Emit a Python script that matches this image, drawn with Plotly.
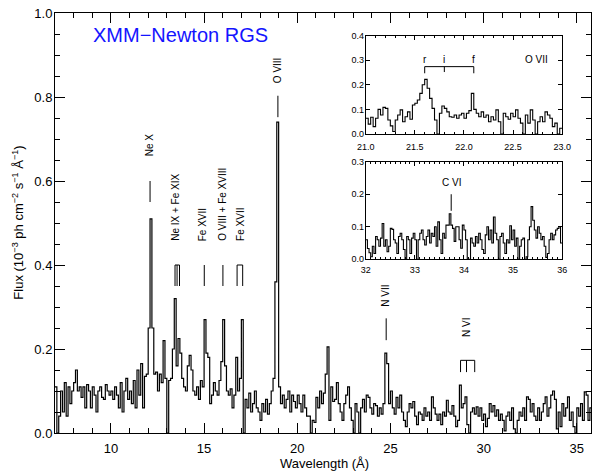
import plotly.graph_objects as go

# ---------------- data ----------------
# main RGS spectrum, 0.1 A bins starting at 7.0 A (flux in 1e-3 ph cm-2 s-1 A-1)
main_start = 7.0
main_step = 0.1
main_flux = [
    0.11, 0.0, 0.04, 0.10, 0.05, 0.12, 0.04, 0.11, 0.07, 0.10,      # 7
    0.12, 0.15, 0.10, 0.11, 0.085, 0.11, 0.06, 0.115, 0.10, 0.06,   # 8
    0.11, 0.09, 0.05, 0.10, 0.11, 0.085, 0.08, 0.115, 0.10, 0.09,   # 9
    0.10, 0.08, 0.11, 0.09, 0.06, 0.12, 0.05, 0.10, 0.13, 0.08,     # 10
    0.10, 0.07, 0.125, 0.06, 0.15, 0.09, 0.165, 0.06, 0.135, 0.14,  # 11
    0.25, 0.51, 0.25, 0.14, 0.145, 0.10, 0.14, 0.12, 0.22, 0.13,    # 12
    0.0, 0.125, 0.13, 0.20, 0.32, 0.16, 0.225, 0.19, 0.13, 0.11,    # 13
    0.10, 0.16, 0.185, 0.15, 0.10, 0.09, 0.11, 0.08, 0.125, 0.11,   # 14
    0.27, 0.19, 0.18, 0.07, 0.09, 0.12, 0.10, 0.09, 0.125, 0.17,    # 15
    0.27, 0.16, 0.10, 0.09, 0.105, 0.06, 0.09, 0.18, 0.10, 0.13,    # 16
    0.27, 0.0, 0.08, 0.06, 0.095, 0.05, 0.07, 0.10, 0.06, 0.05,     # 17
    0.03, 0.07, 0.05, 0.08, 0.045, 0.07, 0.10, 0.13, 0.36, 0.74,    # 18
    0.11, 0.07, 0.09, 0.06, 0.08, 0.10, 0.05, 0.09, 0.075, 0.06,    # 19
    0.09, 0.07, 0.05, 0.09, 0.06, 0.04, 0.04, 0.0, 0.03, 0.025,     # 20
    0.085, 0.06, 0.10, 0.07, 0.095, 0.14, 0.205, 0.03, 0.11, 0.075, # 21
    0.08, 0.12, 0.07, 0.05, 0.03, 0.07, 0.09, 0.11, 0.06, 0.03,     # 22
    0.0, 0.07, 0.05, 0.0, 0.06, 0.08, 0.05, 0.09, 0.085, 0.06,      # 23
    0.045, 0.07, 0.065, 0.04, 0.06, 0.045, 0.07, 0.19, 0.165, 0.07, # 24
    0.10, 0.06, 0.045, 0.085, 0.06, 0.09, 0.05, 0.03, 0.015, 0.05,  # 25
    0.07, 0.06, 0.075, 0.04, 0.02, 0.05, 0.045, 0.03, 0.06, 0.04,   # 26
    0.05, 0.03, 0.086, 0.06, 0.045, 0.03, 0.045, 0.02, 0.05, 0.04,  # 27
    0.078, 0.05, 0.045, 0.065, 0.04, 0.015, 0.03, 0.114, 0.06, 0.07,# 28
    0.086, 0.02, 0.0, 0.05, 0.06, 0.045, 0.062, 0.04, 0.06, 0.03,   # 29
    0.045, 0.015, 0.035, 0.07, 0.05, 0.065, 0.04, 0.055, 0.03, 0.045,  # 30
    0.03, 0.005, 0.04, 0.05, 0.03, 0.06, 0.01, 0.0, 0.03, 0.05,     # 31
    0.04, 0.06, 0.03, 0.086, 0.08, 0.05, 0.07, 0.04, 0.03, 0.06,    # 32
    0.03, 0.05, 0.07, 0.086, 0.04, 0.06, 0.09, 0.10, 0.08, 0.01,    # 33
    0.05, 0.015, 0.07, 0.04, 0.06, 0.086, 0.03, 0.05, 0.015, 0.0,   # 34
    0.06, 0.04, 0.07, 0.03, 0.098, 0.09, 0.03, 0.06, 0.02,          # 35
]

# O VII inset, 0.025 A bins from 21.0 A
o7_start = 21.0
o7_step = 0.025
o7_flux = [
    0.064, 0.04, 0.068, 0.03, 0.064, 0.10, 0.077, 0.108, 0.104, 0.057,
    0.033, 0.01, 0.057, 0.077, 0.098, 0.05, 0.07, 0.09, 0.06, 0.118,
    0.125, 0.138, 0.165, 0.20, 0.222, 0.186, 0.145, 0.104, 0.057, 0.0,
    0.084, 0.114, 0.104, 0.09, 0.07, 0.068, 0.077, 0.064, 0.077, 0.084,
    0.064, 0.084, 0.095, 0.165, 0.10, 0.084, 0.07, 0.09, 0.068, 0.077,
    0.05, 0.07, 0.057, 0.098, 0.05, 0.0, 0.084, 0.07, 0.06, 0.084,
    0.07, 0.098, 0.064, 0.044, 0.0, 0.077, 0.044, 0.098, 0.057, 0.0,
    0.05, 0.07, 0.05, 0.09, 0.077, 0.064, 0.03, 0.044, 0.0, 0.023,
]

# C VI inset, 4/120 A bins from 32.0 A
c6_start = 32.0
c6_step = 4.0 / 120
c6_flux = [
    0.06, 0.033, 0.02, 0.008, 0.04, 0.018, 0.07, 0.06, 0.04, 0.065,
    0.11, 0.04, 0.06, 0.023, 0.04, 0.095, 0.092, 0.06, 0.05, 0.018,
    0.07, 0.08, 0.06, 0.03, 0.0, 0.07, 0.06, 0.018, 0.065, 0.08,
    0.06, 0.0, 0.06, 0.08, 0.09, 0.06, 0.044, 0.07, 0.09, 0.05,
    0.08, 0.07, 0.10, 0.04, 0.115, 0.06, 0.018, 0.08, 0.065, 0.105,
    0.105, 0.14, 0.105, 0.095, 0.055, 0.10, 0.10, 0.06, 0.034, 0.105,
    0.09, 0.06, 0.0, 0.0, 0.065, 0.05, 0.04, 0.07, 0.05, 0.08,
    0.06, 0.03, 0.018, 0.075, 0.10, 0.06, 0.09, 0.05, 0.13, 0.08,
    0.06, 0.0, 0.07, 0.08, 0.05, 0.018, 0.06, 0.05, 0.103, 0.06,
    0.09, 0.04, 0.065, 0.0, 0.04, 0.06, 0.065, 0.0, 0.008, 0.06,
    0.10, 0.162, 0.12, 0.09, 0.065, 0.10, 0.08, 0.06, 0.07, 0.04,
    0.006, 0.018, 0.06, 0.08, 0.06, 0.075, 0.09, 0.095, 0.10, 0.05,
]

# line identifications (label, rest wavelengths in A)
main_line_labels = ["Ne X", "Ne IX + Fe XIX", "Fe XVII", "O VIII + Fe XVIII",
                    "Fe XVII", "O VIII", "N VII", "N VI"]
main_line_waves = [[12.10], [13.44, 13.55, 13.68], [15.01], [16.01],
                   [16.77, 17.07], [18.96], [24.77], [28.76, 29.08, 29.52]]
o7_labels = ["r", "i", "f"]
o7_waves = [21.60, 21.80, 22.10]
c6_label = "C VI"
c6_wave = 33.74

# ---------------- styling / geometry ----------------
FONT = "Liberation Sans, Arial, Helvetica, sans-serif"
# (tick bottom, tick top, label x, label bottom) in data units of the main panel
main_mark_geom = [
    (0.55, 0.60, 12.09, 0.655),
    (0.35, 0.40, 13.50, 0.452),
    (0.35, 0.40, 14.92, 0.452),
    (0.35, 0.40, 15.97, 0.452),
    (0.35, 0.40, 16.94, 0.452),
    (0.752, 0.803, 18.93, 0.829),
    (0.221, 0.273, 24.73, 0.297),
    (0.145, 0.173, 29.11, 0.223),
]


def step_xy(start, step, vals):
    xs = [start + i * step for i in range(len(vals) + 1)]
    ys = list(vals) + [vals[-1]]
    return xs, ys


fig = go.Figure()

for (s, st, v, xa, ya, lw) in [(main_start, main_step, main_flux, "x", "y", 1.2),
                               (o7_start, o7_step, o7_flux, "x2", "y2", 1.1),
                               (c6_start, c6_step, c6_flux, "x3", "y3", 1.1)]:
    xs, ys = step_xy(s, st, v)
    fig.add_trace(go.Scatter(x=xs, y=ys, mode="lines",
                             line=dict(color="black", width=lw, shape="hv"),
                             xaxis=xa, yaxis=ya, showlegend=False,
                             hoverinfo="skip"))

shapes = []
annotations = []
LC = dict(color="black", width=1)
TXT = dict(size=10, family=FONT, color="black")

for label, waves, (yb, yt, lx, lyb) in zip(main_line_labels, main_line_waves, main_mark_geom):
    for w in waves:
        shapes.append(dict(type="line", xref="x", yref="y", x0=w, x1=w,
                           y0=yb, y1=yt, line=LC))
    if len(waves) > 1:
        shapes.append(dict(type="line", xref="x", yref="y", x0=min(waves),
                           x1=max(waves), y0=yt, y1=yt, line=LC))
    annotations.append(dict(text=label, x=lx, y=lyb, xref="x", yref="y",
                            textangle=-90, showarrow=False, xanchor="center",
                            yanchor="bottom", font=TXT))

# O VII triplet bracket
shapes.append(dict(type="line", xref="x2", yref="y2", x0=min(o7_waves),
                   x1=max(o7_waves), y0=0.274, y1=0.274, line=LC))
for lab, w in zip(o7_labels, o7_waves):
    y0 = 0.247 if lab != "i" else 0.252
    shapes.append(dict(type="line", xref="x2", yref="y2", x0=w, x1=w,
                       y0=y0, y1=0.274, line=LC))
    annotations.append(dict(text=lab, x=w, y=0.303, xref="x2", yref="y2",
                            xanchor="center", yanchor="middle",
                            showarrow=False, font=TXT))
annotations.append(dict(text="O VII", x=22.74, y=0.303, xref="x2", yref="y2",
                        xanchor="center", yanchor="middle",
                        showarrow=False, font=TXT))
# C VI
shapes.append(dict(type="line", xref="x3", yref="y3", x0=c6_wave, x1=c6_wave,
                   y0=0.149, y1=0.20, line=LC))
annotations.append(dict(text=c6_label, x=c6_wave, y=0.235, xref="x3",
                        yref="y3", xanchor="center", yanchor="middle",
                        showarrow=False, font=TXT))

# title & axis titles
annotations.append(dict(text="XMM\u2212Newton RGS", x=0.235, y=0.948,
                        xref="paper", yref="paper", showarrow=False,
                        xanchor="center", yanchor="middle",
                        font=dict(size=20, family=FONT, color="#1414ff")))
annotations.append(dict(text="Wavelength (\u00c5)", x=0.503, y=-0.072,
                        xref="paper", yref="paper", showarrow=False,
                        xanchor="center", yanchor="middle",
                        font=dict(size=13, family=FONT, color="black")))
annotations.append(dict(text="Flux (10<sup>\u22123</sup> ph cm<sup>\u22122</sup> "
                             "s<sup>\u22121</sup> \u00c5<sup>\u22121</sup>)",
                        x=-0.0697, y=0.5, xref="paper", yref="paper",
                        textangle=-90, showarrow=False,
                        xanchor="center", yanchor="middle",
                        font=dict(size=13, family=FONT, color="black")))

common = dict(showline=True, linecolor="black", linewidth=1, mirror="ticks",
              ticks="inside", tickcolor="black", showgrid=False,
              zeroline=False, tickfont=dict(size=13, family=FONT,
                                            color="black"))
inset = dict(showline=True, linecolor="black", linewidth=1, mirror="ticks",
             ticks="inside", tickcolor="black", showgrid=False,
             zeroline=False, ticklen=4,
             tickfont=dict(size=9, family=FONT, color="black"))

x_lo = 7.0
x_hi = 7.0 + 545 / 18.95

fig.update_layout(
    width=600, height=471,
    margin=dict(l=55, r=0, t=13, b=38),
    paper_bgcolor="white", plot_bgcolor="white",
    font=dict(family=FONT, color="black"),
    xaxis=dict(range=[x_lo, x_hi], dtick=5, tick0=0, ticklen=10,
               ticklabelstandoff=3,
               minor=dict(dtick=1, ticklen=5, ticks="inside",
                          tickcolor="black"), **common),
    yaxis=dict(range=[0, 1.0], dtick=0.2, tick0=0, tickformat=".1f",
               ticklen=10, ticklabelstandoff=-1,
               minor=dict(dtick=0.05, ticklen=5, ticks="inside",
                          tickcolor="black"), **common),
    xaxis2=dict(domain=[0.5798, 0.9462], anchor="y2", range=[21, 23],
                dtick=0.5, tick0=0, tickformat=".1f", ticklabelstandoff=4,
                minor=dict(dtick=0.1, ticklen=2, ticks="inside",
                           tickcolor="black"), **inset),
    yaxis2=dict(domain=[0.712, 0.946], anchor="x2", range=[0, 0.4],
                dtick=0.1, tick0=0, tickformat=".1f", ticklabelstandoff=-1,
                **inset),
    xaxis3=dict(domain=[0.5798, 0.9462], anchor="y3", range=[32, 36],
                dtick=1, tick0=0, ticklabelstandoff=2,
                minor=dict(dtick=0.1, ticklen=2, ticks="inside",
                           tickcolor="black"), **inset),
    yaxis3=dict(domain=[0.4136, 0.646], anchor="x3", range=[0, 0.3],
                dtick=0.1, tick0=0, tickformat=".1f", ticklabelstandoff=-1,
                **inset),
    shapes=shapes,
    annotations=annotations,
)

fig.write_html("out.html")
